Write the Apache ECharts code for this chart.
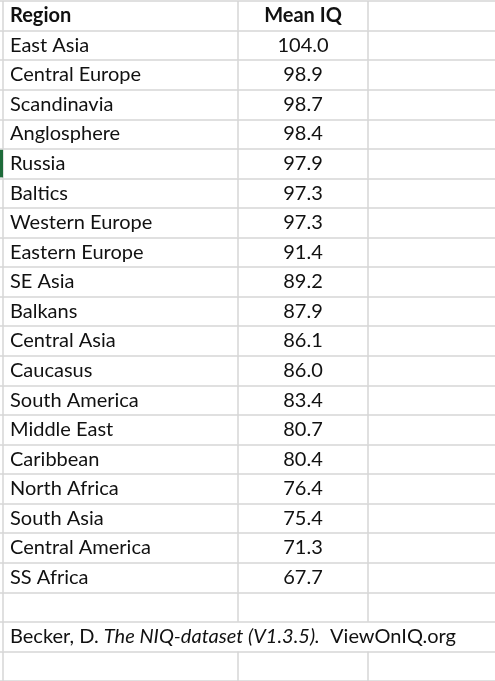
<!DOCTYPE html>
<html><head><meta charset="utf-8">
<script src="https://cdn.jsdelivr.net/npm/echarts@6/dist/echarts.min.js"></script>
<style>html,body{margin:0;padding:0;background:#fff}#main{width:495px;height:681px}</style>
</head><body><div id="main"></div>
<script>
var regions = ['East Asia','Central Europe','Scandinavia','Anglosphere','Russia','Baltics','Western Europe','Eastern Europe','SE Asia','Balkans','Central Asia','Caucasus','South America','Middle East','Caribbean','North Africa','South Asia','Central America','SS Africa'];
var meanIQ = [104.0,98.9,98.7,98.4,97.9,97.3,97.3,91.4,89.2,87.9,86.1,86.0,83.4,80.7,80.4,76.4,75.4,71.3,67.7];
var headers = ['Region','Mean IQ'];
var colEdges = [3, 238, 368];
var rowH = 30;
var fontFam = 'Lato, "Open Sans", sans-serif';

// row 0 = header, 1..19 data, 20 blank, 21 citation, 22 blank
var rows = [];
rows.push([0, headers[0], headers[1], 'h']);
for (var i = 0; i < regions.length; i++) {
	rows.push([i + 1, regions[i], meanIQ[i].toFixed(1), 'd']);
}
rows.push([20, '', '', 'b']);
rows.push([21, '', '', 'c']);
rows.push([22, '', '', 'b']);

var chart = echarts.init(document.getElementById('main'));
chart.setOption({
	animation: false,
	grid: {left: 0, width: 495, top: 1, height: 690, containLabel: false},
	xAxis: {type: 'value', min: 0, max: 495, show: false},
	yAxis: {type: 'value', min: 0, max: 690, interval: 30, inverse: true,
		axisLabel: {show: false}, axisLine: {show: false}, axisTick: {show: false},
		splitLine: {show: true, lineStyle: {color: '#d6d6d6', width: 1.5}}},
	series: [{
		type: 'custom',
		clip: false,
		data: rows,
		renderItem: function(params, api) {
			var r = api.value(0);
			var top = api.coord([0, r * rowH])[1];
			var bot = api.coord([0, (r + 1) * rowH])[1];
			var mid = (top + bot) / 2;
			var d = rows[params.dataIndex];
			var kids = [];
			var vlines = d[3] == 'c' ? [colEdges[0]] : colEdges;
			vlines.forEach(function(x) {
				var px = api.coord([x, 0])[0];
				kids.push({type: 'line', shape: {x1: px, y1: top, x2: px, y2: bot},
					style: {stroke: '#d6d6d6', lineWidth: 1.5}});
			});
			if (d[3] == 'h' || d[3] == 'd') {
				var bold = d[3] == 'h' ? 'bold' : 'normal';
				kids.push({type: 'text', x: api.coord([10, 0])[0], y: mid,
					style: {text: d[1], fill: '#111', font: bold + ' 20px ' + fontFam, verticalAlign: 'middle'}});
				kids.push({type: 'text', x: api.coord([303, 0])[0], y: mid,
					style: {text: d[2], fill: '#111', font: bold + ' 20px ' + fontFam, align: 'center', verticalAlign: 'middle'}});
			}
			if (d[1] == 'Russia') {
				kids.push({type: 'rect', shape: {x: 0, y: top + 1, width: 3, height: bot - top - 2}, style: {fill: '#1e6b3a'}});
			}
			if (d[3] == 'c') {
				kids.push({type: 'text', x: api.coord([10, 0])[0], y: mid,
					style: {rich: {n: {fontSize: 20, fontFamily: fontFam, fill: '#111'}, i: {fontSize: 20, fontFamily: fontFam, fontStyle: 'italic', fill: '#111'}},
						text: '{n|Becker, D. }{i|The NIQ-dataset (V1.3.5).}{n|  ViewOnIQ.org}', verticalAlign: 'middle'}});
			}
			return {type: 'group', children: kids};
		}
	}]
});
</script></body></html>
